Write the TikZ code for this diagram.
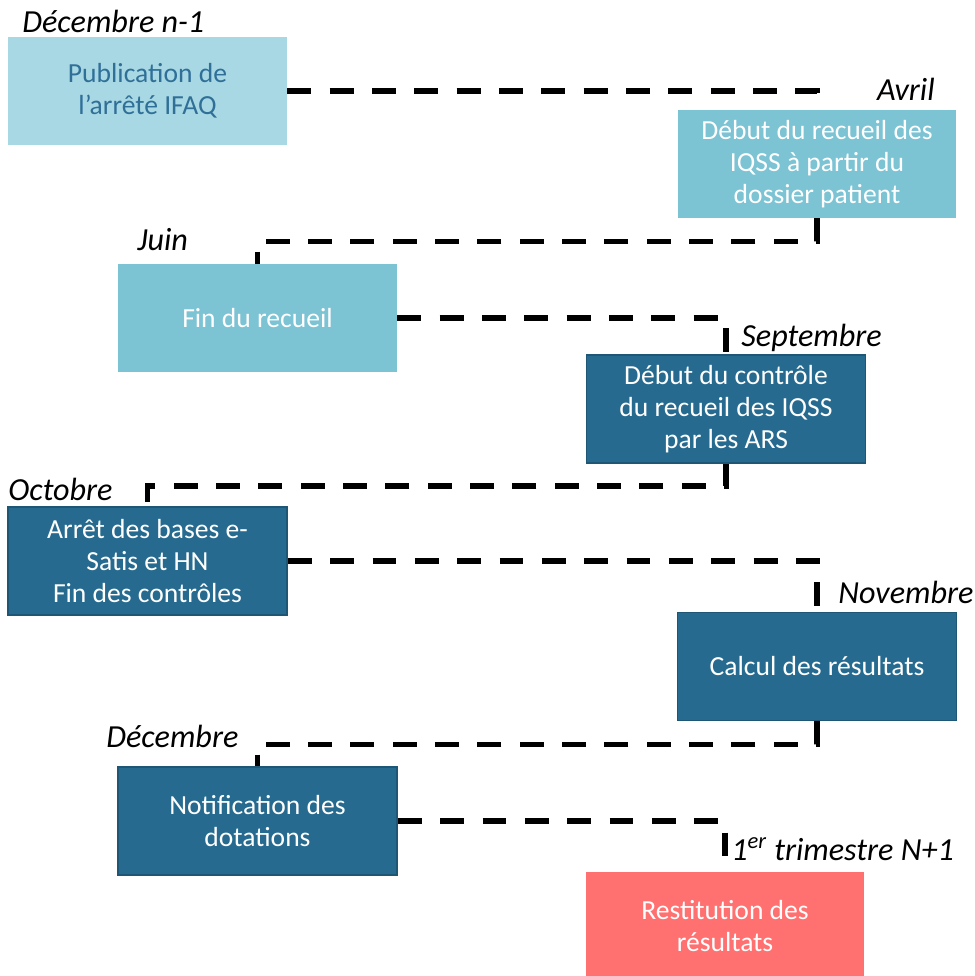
\documentclass[tikz,border=0pt]{standalone}
\usepackage{fontspec}
\setmainfont{Carlito}
\usepackage{tikz}
\usetikzlibrary{calc}

\definecolor{paleblue}{HTML}{A8D8E3}
\definecolor{titleblue}{HTML}{2F6F98}
\definecolor{midblue}{HTML}{7CC3D4}
\definecolor{darkblue}{HTML}{266B8F}
\definecolor{darkedge}{HTML}{1E5676}
\definecolor{salmon}{HTML}{FF7171}

\begin{document}
\begin{tikzpicture}[x=0.02cm,y=-0.02cm,
  box/.style={shape=rectangle,minimum width=5.58cm,minimum height=2.16cm,inner sep=0pt,align=center,font=\fontsize{15.7}{18.2}\selectfont},
  palebox/.style={box,fill=paleblue,text=titleblue},
  midbox/.style={box,fill=midblue,text=white},
  darkbox/.style={box,fill=darkblue,draw=darkedge,line width=1pt,text=white},
  redbox/.style={box,fill=salmon,text=white},
  monthlabel/.style={font=\fontsize{18.3}{20}\selectfont\itshape,inner sep=0pt},
  link/.style={line width=3.1pt,dash pattern=on 13.6pt off 10.5pt}]
  \useasboundingbox (0,0) rectangle (974,976);
  % steps
  \path (147.5,91) node[palebox] (pub) {Publication de\\l’arrêté IFAQ}
  (817,164) node[midbox] (rec) {Début du recueil des\\IQSS à partir du\\dossier patient}
  (257.5,318) node[midbox] (fin) {Fin du recueil}
  (726,409) node[darkbox] (ctl) {Début du contrôle\\du recueil des IQSS\\par les ARS}
  (147.5,561) node[darkbox] (arr) {Arrêt des bases e-\\Satis et HN\\Fin des contrôles}
  (817,666.5) node[darkbox] (calc) {Calcul des résultats}
  (257.5,821) node[darkbox] (notif) {Notification des\\dotations}
  (725,926) node[redbox] (rest) {Restitution des\\résultats};
  % months
  \path (22,33) node[monthlabel,anchor=base west] (m0) {Décembre n-1}
  (935,101) node[monthlabel,anchor=base east] (m1) {Avril}
  (137,251) node[monthlabel,anchor=base west] (m2) {Juin}
  (741,346) node[monthlabel,anchor=base west] (m3) {Septembre}
  (8,500) node[monthlabel,anchor=base west] (m4) {Octobre}
  (838,603) node[monthlabel,anchor=base west] (m5) {Novembre}
  (106,747) node[monthlabel,anchor=base west] (m6) {Décembre}
  (731,860) node[monthlabel,anchor=base west] (m7) {1\textsuperscript{er} trimestre N+1};
  % links
  \draw[link] (pub.east) -| (rec.north);
  \draw[link] (rec.south) -- ++(0,23) -| (fin.north);
  \draw[link] (fin.east) -| (ctl.north);
  \draw[link] (ctl.south) -- ++(0,22) -| (arr.north);
  \draw[link] (arr.east) -| (calc.north);
  \draw[link] (calc.south) -- ++(0,23) -| (notif.north);
  \draw[link] (notif.east) -| (rest.north);
\end{tikzpicture}
\end{document}
